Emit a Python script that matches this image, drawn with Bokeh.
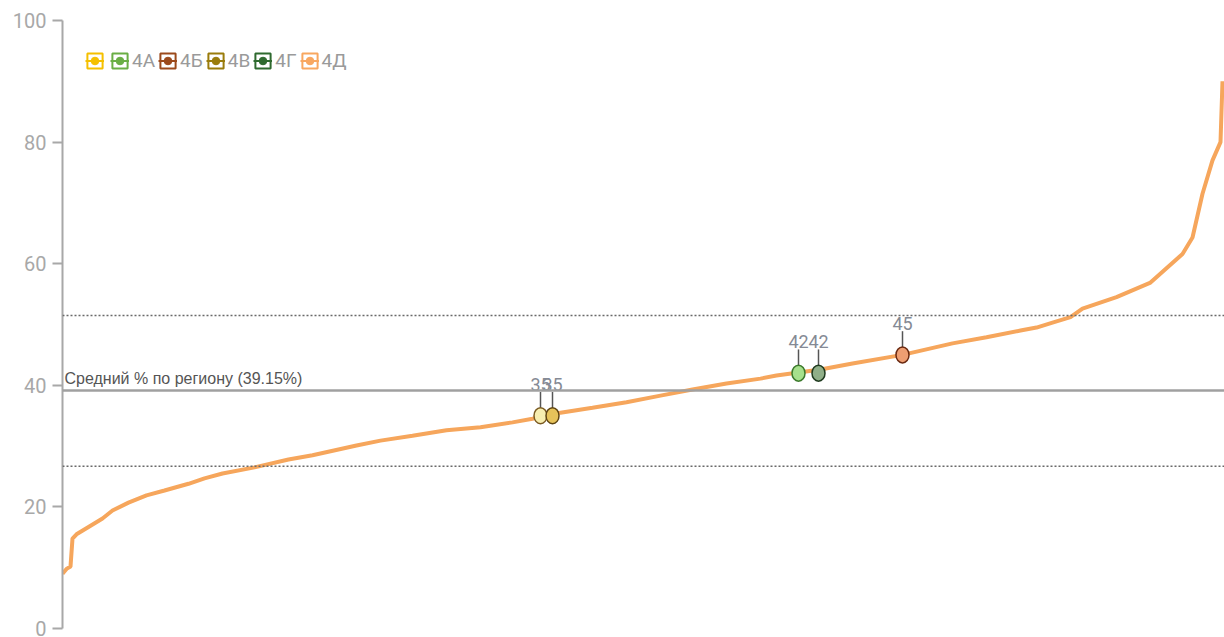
from bokeh.plotting import figure
from bokeh.models import (ColumnDataSource, Range1d, FixedTicker, Span, Legend,
                          LegendItem)
from bokeh.core.properties import value
from bokeh.embed import file_html
from bokeh.resources import INLINE

# ---- data ----
ranks = [0, 2, 4, 5, 7, 13, 20, 25, 33, 42, 51, 63, 71, 80, 96, 113, 125, 147,
         159, 175, 192, 209, 225, 235, 249, 265, 282, 299, 315, 332, 349, 357,
         379, 395, 420, 445, 462, 479, 487, 495, 504, 510, 527, 544, 560, 565,
         570, 575, 579, 580]
pct = [9.0, 9.8, 10.2, 14.8, 15.5, 16.7, 18.1, 19.4, 20.7, 21.9, 22.7, 23.8,
       24.7, 25.5, 26.5, 27.8, 28.5, 30.1, 30.9, 31.7, 32.6, 33.1, 33.9, 34.5,
       35.5, 36.3, 37.2, 38.3, 39.3, 40.3, 41.1, 41.6, 42.6, 43.6, 45.0, 46.9,
       47.9, 49.0, 49.5, 50.3, 51.2, 52.6, 54.5, 56.9, 61.6, 64.3, 71.5, 77.0,
       80.0, 90.0]

hl_rank = [239, 245, 368, 378, 420]
hl_pct = [35, 35, 42, 42, 45]
hl_label = ["35", "35", "42", "42", "45"]
hl_fill = ["#f7eeb0", "#e6c25a", "#a6e08c", "#8fae88", "#ee9e72"]
hl_line = ["#7a5a22", "#5e4412", "#3c7a2c", "#1f3a1f", "#6a2a12"]

mean_pct = 39.15
upper_pct = 51.5
lower_pct = 26.7
mean_text = "Средний % по региону (39.15%)"

legend_labels = ["", "4А", "4Б", "4В", "4Г", "4Д"]
legend_colors = ["#f5c000", "#6aae45", "#9c4a1c", "#9a7c0c", "#2f6a2f", "#f8a760"]

y_ticks = [0, 20, 40, 60, 80, 100]

# ---- figure ----
p = figure(width=1224, height=637, output_backend="svg", toolbar_location=None,
           x_range=Range1d(0, 581), y_range=Range1d(0, 100),
           min_border_left=62, min_border_right=0, min_border_top=20,
           min_border_bottom=9)
p.outline_line_color = None
p.xgrid.visible = False
p.ygrid.visible = False
p.xaxis.visible = False

ax = p.yaxis[0]
ax.ticker = FixedTicker(ticks=y_ticks)
ax.axis_line_color = "#a8a8a8"
ax.axis_line_width = 2
ax.major_tick_line_color = "#a8a8a8"
ax.major_tick_line_width = 2
ax.major_tick_out = 10
ax.major_tick_in = 0
ax.minor_tick_out = 0
ax.minor_tick_in = 0
ax.major_label_standoff = 6
ax.major_label_text_font = "Roboto"
ax.major_label_text_font_size = "20px"
ax.major_label_text_color = "#a8a8a8"

# reference lines
p.add_layout(Span(location=upper_pct, dimension="width", line_color="#6a6a6a",
                  line_width=1.5, line_dash="2 2"))
p.add_layout(Span(location=lower_pct, dimension="width", line_color="#6a6a6a",
                  line_width=1.5, line_dash="2 2"))
p.add_layout(Span(location=mean_pct, dimension="width", line_color="#a0a0a0",
                  line_width=2.5))
p.text(x=[1], y=[mean_pct], text=[mean_text], text_font=value("Liberation Sans"),
       text_font_size="16px", text_color="#555555", text_baseline="bottom",
       y_offset=-3)

# curve
p.line(ranks, pct, line_color="#f6a65c", line_width=4)

# highlighted points
src = ColumnDataSource(dict(x=hl_rank, y=hl_pct, label=hl_label, fill=hl_fill,
                            line=hl_line,
                            y0=[v + 1.3 for v in hl_pct],
                            y1=[v + 3.9 for v in hl_pct]))
p.segment(x0="x", y0="y0", x1="x", y1="y1", source=src, line_color="#555555",
          line_width=1.5)
p.ellipse(x="x", y="y", width=13, height=16, width_units="screen",
          height_units="screen", fill_color="fill", line_color="line",
          line_width=1.5, source=src)
p.text(x="x", y="y", text="label", source=src, text_align="center",
       text_baseline="bottom", y_offset=-25, text_font=value("Roboto"),
       text_font_size="18px", text_color="#858a95")

# legend (swatches only; NaN rows keep them off the plot area)
nan = float("nan")
items = []
for lab, col in zip(legend_labels, legend_colors):
    e = ColumnDataSource(dict(x=[nan], y=[nan]))
    r1 = p.rect(x="x", y="y", width=1, height=1, source=e, fill_color="white",
                line_color=col, line_width=2)
    r2 = p.line(x="x", y="y", source=e, line_color=col, line_width=2)
    r3 = p.scatter(x="x", y="y", source=e, marker="circle", fill_color=col,
                   line_color=col)
    items.append(LegendItem(label=lab, renderers=[r1, r2, r3]))

leg = Legend(items=items, orientation="horizontal", location=(23, 556),
             glyph_width=19, glyph_height=19, label_standoff=3, spacing=3,
             label_width=0, padding=0, margin=0, border_line_color=None,
             background_fill_alpha=0, label_text_font="Roboto",
             label_text_font_size="19px", label_text_color="#9a9a9a",
             label_height=19)
p.add_layout(leg, "center")

open("out.html", "w").write(file_html(p, INLINE))
